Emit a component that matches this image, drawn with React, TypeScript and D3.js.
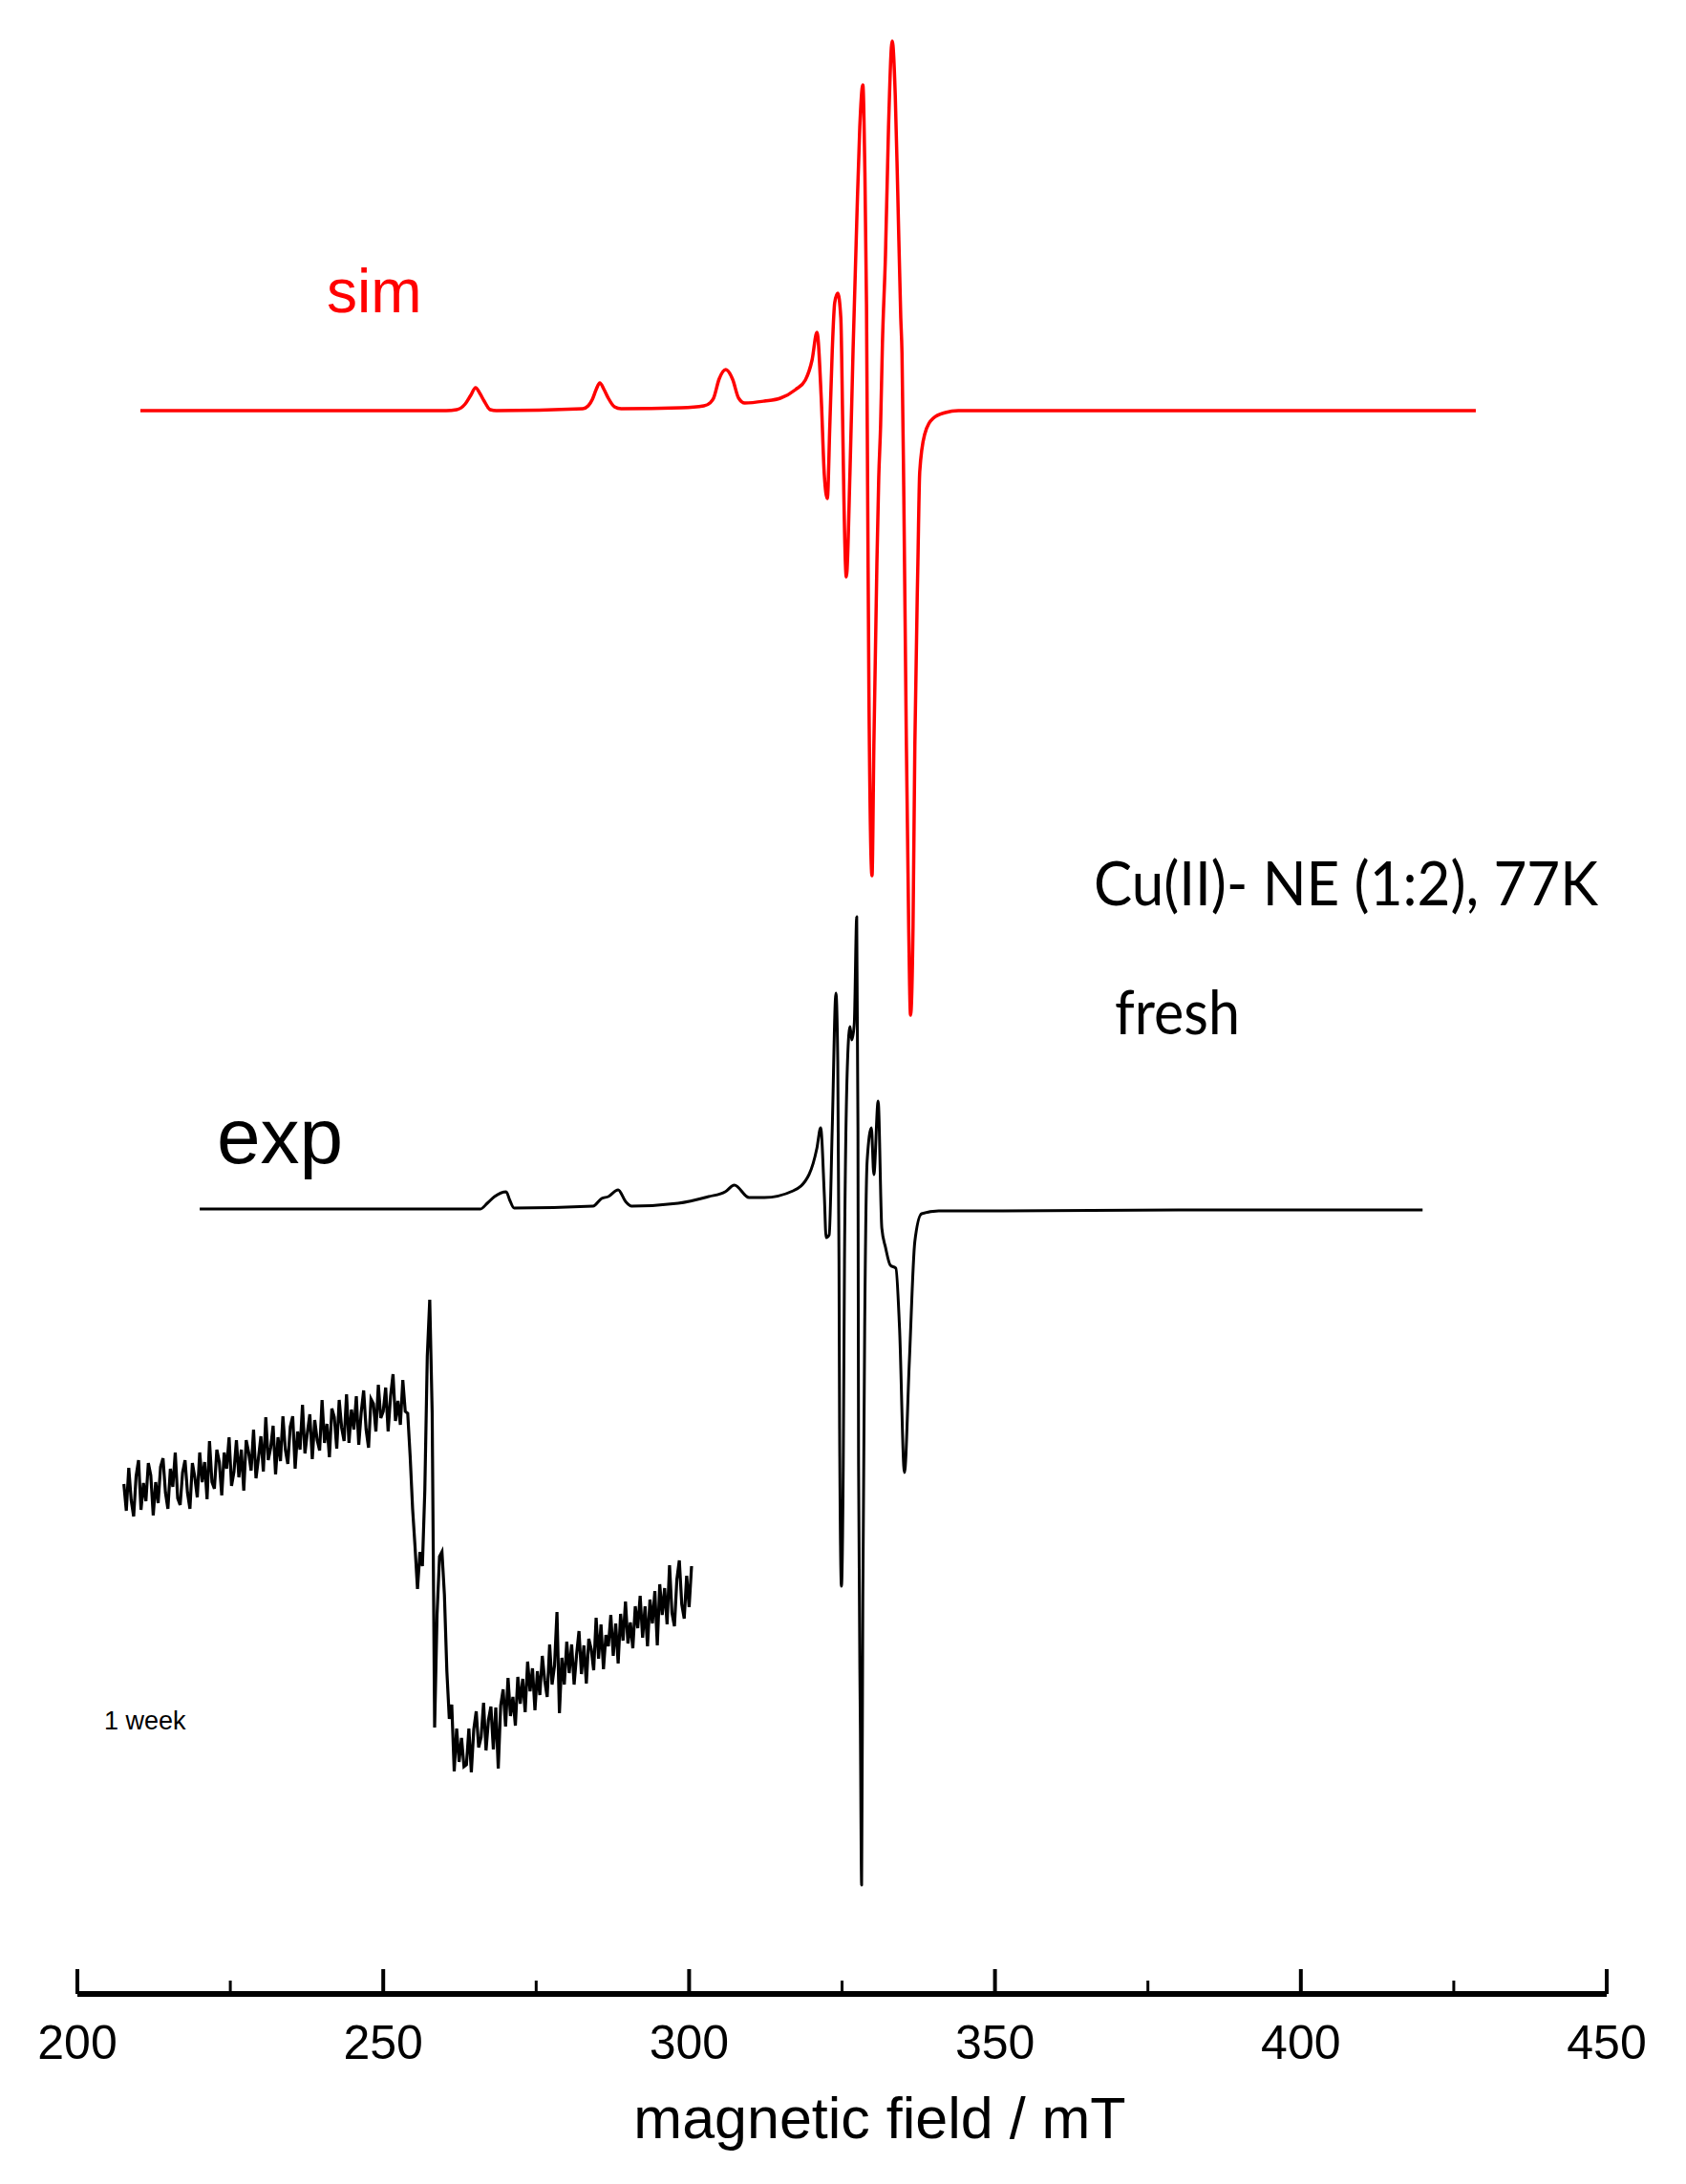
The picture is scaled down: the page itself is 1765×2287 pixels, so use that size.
import React from "react";
import * as d3 from "d3";

// ---------- data ----------
const MAJOR_TICKS = [200, 250, 300, 350, 400, 450];
const MINOR_TICKS = [225, 275, 325, 375, 425];

// simulated spectrum (field mT, intensity a.u.)
const SIM_FIELD = [210.3, 260.3, 262.0, 263.4, 264.3, 265.1, 265.8, 266.5, 267.5, 268.5, 282.6, 283.5, 284.2, 284.8, 285.4, 286.1, 286.8, 287.8, 288.9, 298.7, 302.4, 303.4, 304.0, 304.9, 306.0, 307.1, 308.1, 309.1, 312.3, 314.9, 317.4, 319.0, 320.1, 320.9, 321.6, 322.1, 322.6, 323.0, 323.4, 323.8, 324.3, 324.8, 325.1, 325.3, 325.7, 326.3, 326.8, 327.4, 327.9, 328.4, 328.7, 329.0, 329.2, 329.4, 329.9, 330.2, 330.7, 331.0, 331.3, 331.6, 332.1, 332.6, 333.2, 333.7, 334.1, 334.6, 334.8, 335.1, 335.5, 335.9, 336.2, 336.6, 336.9, 337.4, 337.7, 338.5, 339.9, 341.9, 344.0, 428.6];
const SIM_VALUE = [0, 0, 1, 7, 16, 24, 18, 10, 1, 0, 2, 5, 12, 22, 29, 22, 13, 4, 2, 3, 5, 8, 13, 33, 43, 33, 13, 8, 10, 13, 22, 32, 53, 82, 13, -67, -92, -16, 63, 113, 123, 97, -10, -90, -174, -64, 63, 197, 297, 341, 263, 110, -100, -300, -487, -351, -159, -70, -16, 70, 163, 297, 387, 330, 230, 97, 60, -90, -340, -542, -633, -542, -351, -159, -64, -25, -8, -2, 0, 0];

// experimental spectrum, fresh
const EXP_FIELD = [220.0, 265.9, 267.0, 268.2, 270.1, 270.7, 271.4, 284.3, 285.7, 286.8, 288.4, 289.6, 290.6, 298.2, 303.2, 305.9, 307.4, 309.8, 312.3, 317.0, 319.6, 320.9, 321.5, 322.1, 322.4, 322.9, 323.4, 324.0, 324.3, 324.5, 324.6, 324.9, 325.2, 325.4, 325.9, 326.3, 326.6, 327.0, 327.4, 327.6, 327.7, 328.0, 328.2, 328.4, 328.7, 329.1, 329.8, 330.2, 330.9, 331.5, 332.1, 332.9, 333.8, 334.4, 335.2, 336.0, 336.9, 338.0, 340.8, 351.3, 380.0, 419.9];
const EXP_VALUE = [0, 0, 6, 13, 18, 9, 1, 3, 11, 13, 20, 8, 3, 6, 13, 18, 25, 12, 12, 19, 36, 64, 85, 15, -30, -27, 85, 226, 155, -55, -230, -395, -266, -55, 155, 191, 177, 194, 306, 85, -266, -546, -708, -406, -125, 50, 85, 36, 113, -20, -40, -59, -62, -125, -276, -160, -34, -5, -2, -2, -1, -1];

// 1 week spectrum (inset), sampled every 0.4 mT from 207.6 mT
const WEEK_START = 207.6;
const WEEK_STEP = 0.4;
const WEEK_VALUE = [
  46, 18, 63, 29, 12, 54, 71, 19, 47, 28, 68, 55, 13, 48, 26, 64, 73, 37, 20, 62,
  43, 79, 31, 24, 58, 71, 37, 20, 68, 53, 32, 79, 48, 69, 30, 91, 48, 41, 82, 69,
  34, 79, 62, 95, 44, 59, 92, 53, 82, 39, 92, 79, 60, 103, 52, 73, 96, 59, 116, 71,
  84, 107, 56, 95, 70, 117, 82, 67, 106, 117, 62, 101, 82, 129, 78, 100, 119, 72, 113, 92,
  81, 134, 89, 109, 74, 125, 116, 83, 134, 105, 91, 140, 89, 124, 103, 138, 87, 121, 144, 103,
  84, 135, 130, 101, 150, 115, 122, 147, 101, 138, 161, 112, 133, 108, 155, 122,
  120, 75, 20, -20, -64, -25, -40, 40, 180, 239, 120, -209, -90, -30, -25, -70, -150, -200, -185, -255, -210, -245, -220, -250,
  -248, -210, -256, -211, -192, -230, -219, -183, -233, -201, -187, -232, -188, -252, -186, -169, -208, -157, -197, -177,
  -207, -156, -184, -158, -193, -140, -171, -147, -191, -150, -175, -134, -160, -177, -122, -164, -144, -88, -194, -136,
  -164, -119, -152, -122, -164, -133, -108, -153, -123, -163, -116, -127, -149, -94, -137, -101, -148, -112, -124, -91,
  -134, -100, -142, -90, -118, -77, -121, -99, -126, -82, -105, -71, -115, -82, -124, -75, -100, -66, -123, -59,
  -91, -63, -101, -39, -89, -103, -54, -34, -80, -95, -50, -83, -40,
];

// ---------- layout ----------
const W = 1765;
const H = 2287;
const AXIS_Y = 2088;
const SIM_OFFSET = 570;
const EXP_OFFSET = -266;
const WEEK_OFFSET = -600;

const x = d3.scaleLinear().domain([200, 450]).range([81, 1682]);
const y = d3.scaleLinear().domain([-1000, 1000]).range([2000, 0]);

const simData: [number, number][] = SIM_FIELD.map((f, i) => [f, SIM_VALUE[i]]);
const expData: [number, number][] = EXP_FIELD.map((f, i) => [f, EXP_VALUE[i]]);
const weekData: [number, number][] = WEEK_VALUE.map((v, i) => [WEEK_START + i * WEEK_STEP, v]);

const lineFor = (offset: number, smooth: boolean) =>
  d3
    .line<[number, number]>()
    .x((d) => x(d[0]))
    .y((d) => y(d[1] + offset))
    .curve(smooth ? d3.curveMonotoneX : d3.curveLinear);

const ARIAL = "'Liberation Sans', Arial, Helvetica, sans-serif";
const CALIBRI = "Lato, 'Open Sans', 'Noto Sans', sans-serif";

export default function App() {
  return (
    <svg
      width={W}
      height={H}
      viewBox={`0 0 ${W} ${H}`}
      style={{ position: "absolute", left: 0, top: 0, background: "#fff" }}
    >
      <rect x={0} y={0} width={W} height={H} fill="#fff" />
      {/* traces */}
      <path d={lineFor(SIM_OFFSET, true)(simData) || ""} fill="none" stroke="#ff0000" strokeWidth={3.5} strokeLinejoin="round" />
      <path d={lineFor(EXP_OFFSET, true)(expData) || ""} fill="none" stroke="#000" strokeWidth={3} strokeLinejoin="round" />
      <path d={lineFor(WEEK_OFFSET, false)(weekData) || ""} fill="none" stroke="#000" strokeWidth={3.2} strokeLinejoin="miter" />

      {/* labels */}
      <text x={342} y={327} fontFamily={ARIAL} fontSize={64} fill="#ff0000">sim</text>
      <text x={227} y={1218} fontFamily={ARIAL} fontSize={82} fill="#000">exp</text>
      <text x={109} y={1811} fontFamily={ARIAL} fontSize={27} fill="#000">1 week</text>
      <text x={1145} y={948} fontFamily={CALIBRI} fontSize={63} textLength={528} lengthAdjust="spacingAndGlyphs" fill="#000">Cu(II)- NE (1:2), 77K</text>
      <text x={1167} y={1083} fontFamily={CALIBRI} fontSize={63} textLength={131} lengthAdjust="spacingAndGlyphs" fill="#000">fresh</text>

      {/* axis */}
      <line x1={x(200)} x2={x(450)} y1={AXIS_Y} y2={AXIS_Y} stroke="#000" strokeWidth={6} />
      {MAJOR_TICKS.map((t) => (
        <g key={`M${t}`}>
          <line x1={x(t)} x2={x(t)} y1={AXIS_Y} y2={2062} stroke="#000" strokeWidth={4} />
          <text x={x(t)} y={2156} textAnchor="middle" fontFamily={ARIAL} fontSize={50} fill="#000">{t}</text>
        </g>
      ))}
      {MINOR_TICKS.map((t) => (
        <line key={`m${t}`} x1={x(t)} x2={x(t)} y1={AXIS_Y} y2={2074} stroke="#000" strokeWidth={3} />
      ))}
      <text x={921} y={2239} textAnchor="middle" fontFamily={ARIAL} fontSize={61} fill="#000">magnetic field / mT</text>
    </svg>
  );
}
